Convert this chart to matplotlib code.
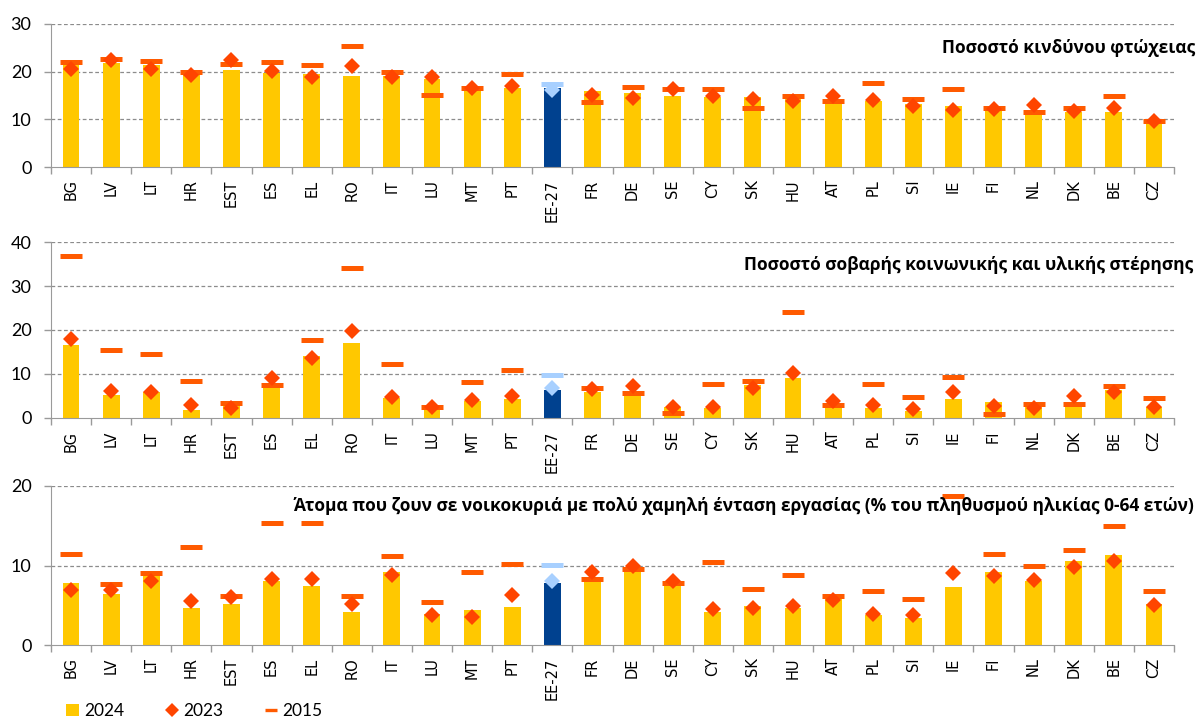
import matplotlib
matplotlib.use("Agg")
import matplotlib.pyplot as plt
from matplotlib.lines import Line2D
from matplotlib.patches import Patch
import numpy as np

countries = ["BG", "LV", "LT", "HR", "EST", "ES", "EL", "RO", "IT", "LU", "MT", "PT", "EE-27",
             "FR", "DE", "SE", "CY", "SK", "HU", "AT", "PL", "SI", "IE", "FI", "NL", "DK", "BE", "CZ"]

# Panel 1: at-risk-of-poverty rate
pov_2024 = [21.7, 21.9, 21.5, 19.8, 20.3, 19.7, 19.6, 19.0, 19.0, 18.4, 16.1, 16.6, 16.5,
            16.0, 15.6, 14.9, 14.7, 14.6, 14.4, 13.5, 13.8, 13.3, 12.8, 11.9, 11.2, 11.6, 11.6, 9.3]
pov_2023 = [20.6, 22.5, 20.5, 19.3, 22.5, 20.2, 18.9, 21.1, 18.9, 18.8, 16.5, 17.0, 16.1,
            15.2, 14.4, 16.3, 14.9, 14.3, 13.8, 14.9, 14.0, 12.8, 11.9, 12.1, 13.1, 11.7, 12.4, 9.7]
pov_2015 = [22.0, 22.6, 22.2, 20.0, 21.6, 22.1, 21.4, 25.4, 19.9, 15.2, 16.6, 19.6, 17.4,
            13.7, 16.7, 16.3, 16.3, 12.3, 14.9, 13.9, 17.7, 14.3, 16.3, 12.4, 11.6, 12.3, 14.9, 9.7]

# Panel 2: severe material and social deprivation rate
dep_2024 = [16.6, 5.3, 5.9, 1.9, 2.7, 7.9, 14.0, 17.1, 4.5, 2.3, 3.9, 4.3, 6.4,
            6.0, 5.1, 2.5, 2.3, 7.5, 9.2, 3.4, 2.3, 1.7, 4.4, 3.6, 2.9, 2.6, 6.4, 2.6]
dep_2023 = [18.0, 6.2, 6.0, 2.9, 2.3, 9.1, 13.6, 19.8, 4.8, 2.6, 4.0, 4.9, 6.9,
            6.6, 7.2, 2.6, 2.6, 6.9, 10.3, 3.9, 3.0, 2.0, 6.0, 2.8, 2.3, 5.1, 6.0, 2.6]
dep_2015 = [36.8, 15.4, 14.6, 8.5, 3.5, 7.4, 17.7, 34.1, 12.2, 2.5, 8.2, 10.9, 9.7,
            6.8, 5.7, 1.1, 7.8, 8.5, 24.1, 2.9, 7.8, 4.8, 9.4, 1.0, 3.2, 3.2, 7.3, 4.5]

# Panel 3: very low work intensity
lwi_2024 = [7.8, 6.4, 8.8, 4.7, 5.2, 8.0, 7.4, 4.2, 9.2, 3.9, 4.4, 4.8, 7.8,
            7.9, 9.2, 7.5, 4.2, 4.9, 4.7, 6.0, 3.8, 3.4, 7.3, 9.2, 8.0, 10.6, 11.3, 5.1]
lwi_2023 = [6.9, 6.9, 8.0, 5.5, 6.0, 8.3, 8.3, 5.1, 8.8, 3.8, 3.5, 6.3, 8.1,
            9.2, 9.9, 8.0, 4.5, 4.6, 4.9, 5.7, 3.9, 3.8, 9.0, 8.7, 8.2, 9.8, 10.6, 5.0]
lwi_2015 = [11.5, 7.7, 9.1, 12.3, 6.2, 15.4, 15.3, 6.2, 11.2, 5.4, 9.2, 10.2, 10.1,
            8.3, 9.5, 7.8, 10.4, 7.0, 8.8, 6.2, 6.8, 5.8, 18.7, 11.5, 10.0, 11.9, 15.0, 6.8]

titles = ["Ποσοστό κινδύνου φτώχειας",
          "Ποσοστό σοβαρής κοινωνικής και υλικής στέρησης",
          "Άτομα που ζουν σε νοικοκυριά με πολύ χαμηλή ένταση εργασίας (% του πληθυσμού ηλικίας 0-64 ετών)"]
ylims = [(0, 30), (0, 40), (0, 20)]
yticks = [[0, 10, 20, 30], [0, 10, 20, 30, 40], [0, 10, 20]]
legend_labels = ["2024", "2023", "2015"]

YELLOW = "#FFC800"
DBLUE = "#00418F"
LBLUE = "#A8D0FF"
DIAM = "#FF4500"
DASH = "#FF5A00"

W, H = 1199, 719
fig = plt.figure(figsize=(W / 100, H / 100), dpi=100)
ax_left, ax_right = 51, 1174
panels_px = [(24, 167), (242, 418), (486, 645)]
rects = [(ax_left / W, 1 - b / H, (ax_right - ax_left) / W, (b - t) / H) for t, b in panels_px]
data = [(pov_2024, pov_2023, pov_2015), (dep_2024, dep_2023, dep_2015), (lwi_2024, lwi_2023, lwi_2015)]
title_pos = [(1195, 48), (1193, 265), (1194, 506)]

x = np.arange(len(countries))
bar_colors = [DBLUE if c == "EE-27" else YELLOW for c in countries]
diam_colors = [LBLUE if c == "EE-27" else DIAM for c in countries]
dash_colors = [LBLUE if c == "EE-27" else DASH for c in countries]

for i, (rect, (v24, v23, v15)) in enumerate(zip(rects, data)):
    ax = fig.add_axes(rect)
    ax.bar(x, v24, width=0.42, color=bar_colors, zorder=2)
    for j in range(len(countries)):
        ax.plot(x[j], v23[j], linestyle="none", marker="D", markersize=7.8,
                color=diam_colors[j], markeredgewidth=0, zorder=4)
        ax.plot(x[j], v15[j], linestyle="none", marker="_", markersize=16,
                markeredgewidth=3.6, color=dash_colors[j], zorder=3)
    ax.set_xlim(-0.5, len(countries) - 0.5)
    ax.set_ylim(*ylims[i])
    ax.set_yticks(yticks[i])
    ax.set_yticklabels([str(t) for t in yticks[i]], fontsize=13, family=["Lato", "DejaVu Sans"])
    ax.set_xticks(x)
    ax.set_xticklabels(countries, rotation=90, fontsize=10.5, family=["DejaVu Sans"])
    ax.set_xticks(np.arange(-0.5, len(countries), 1.0), minor=True)
    ax.tick_params(axis="x", which="major", length=0, pad=9)
    ax.tick_params(axis="x", which="minor", length=5, color="#9A9A9A", width=1)
    ax.tick_params(axis="y", length=5, color="#9A9A9A", width=1, pad=9)
    for sp in ["top", "right"]:
        ax.spines[sp].set_visible(False)
    ax.spines["left"].set_color("#9A9A9A")
    ax.spines["bottom"].set_color("#9A9A9A")
    for t in yticks[i][1:]:
        ax.axhline(t, color="#8C8C8C", linestyle=(0, (3, 2)), linewidth=0.9, zorder=1)
    tx, ty = title_pos[i]
    fig.text(tx / W, 1 - ty / H, titles[i], ha="right", va="center",
             fontsize=12.5, fontweight="bold", family=["Open Sans", "DejaVu Sans"])

handles = [Patch(facecolor=YELLOW, edgecolor="none"),
           Line2D([], [], linestyle="none", marker="D", markersize=7.5, color=DIAM, markeredgewidth=0),
           Line2D([], [], linestyle="none", marker="_", markersize=9, markeredgewidth=2.4, color=DASH)]
leg = fig.legend(handles, legend_labels, loc="center left",
                 bbox_to_anchor=(66 / W, 1 - 711 / H),
                 ncol=3, frameon=False, handlelength=0.75, handleheight=0.75,
                 handletextpad=0.3, columnspacing=2.35, borderpad=0, borderaxespad=0,
                 prop={"family": ["Lato", "DejaVu Sans"], "size": 12.5})

fig.savefig("out.png", dpi=100)
